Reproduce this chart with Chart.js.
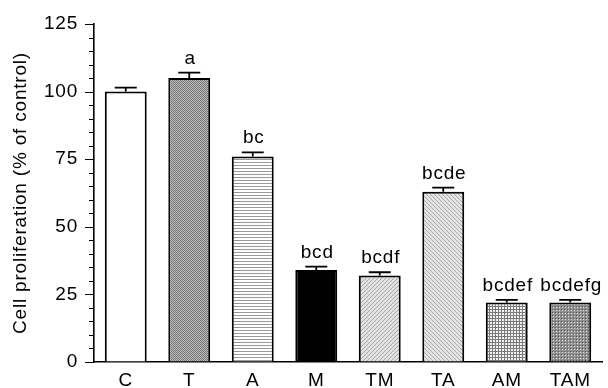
<!DOCTYPE html>
<html>
<head>
<meta charset="utf-8">
<script src="https://cdn.jsdelivr.net/npm/chart.js@4"></script>
<style>
  html, body { margin: 0; padding: 0; background: #fff; }
  #chart { display: block; }
</style>
</head>
<body>
<canvas id="chart" width="608" height="388"></canvas>
<script>
// data
const groups = ['C', 'T', 'A', 'M', 'TM', 'TA', 'AM', 'TAM'];
const proliferation = [100, 105, 76, 34, 32, 63, 22, 22];
const sem = [1.5, 2, 1.5, 1.3, 1.2, 1.5, 1, 1];
const letters = ['', 'a', 'bc', 'bcd', 'bcdf', 'bcde', 'bcdef', 'bcdefg'];
const yTicks = [0, 25, 50, 75, 100, 125];

const FONT = 'Liberation Sans, Arial, Helvetica, sans-serif';
const SPACING = '0.8px';

// small tile -> canvas pattern
function tile(w, h, draw) {
  const c = document.createElement('canvas');
  c.width = w; c.height = h;
  const g = c.getContext('2d');
  draw(g);
  return document.getElementById('chart').getContext('2d').createPattern(c, 'repeat');
}

const fills = [
  '#ffffff',
  tile(2, 2, g => { // T: dense grey checker
    g.fillStyle = '#bcbcbc'; g.fillRect(0, 0, 2, 2);
    g.fillStyle = '#767676'; g.fillRect(0, 0, 1, 1); g.fillRect(1, 1, 1, 1);
  }),
  tile(1, 3, g => { // A: horizontal lines
    g.fillStyle = '#fff'; g.fillRect(0, 0, 1, 3);
    g.fillStyle = '#9a9a9a'; g.fillRect(0, 0, 1, 1);
  }),
  '#000000',
  tile(4, 4, g => { // TM: diagonal /
    g.fillStyle = '#e2e2e2'; g.fillRect(0, 0, 4, 4);
    g.fillStyle = '#a8a8a8';
    for (let i = 0; i < 4; i++) g.fillRect(3 - i, i, 1, 1);
  }),
  tile(4, 4, g => { // TA: diagonal \
    g.fillStyle = '#e4e4e4'; g.fillRect(0, 0, 4, 4);
    g.fillStyle = '#aaaaaa';
    for (let i = 0; i < 4; i++) g.fillRect(i, i, 1, 1);
  }),
  tile(3, 3, g => { // AM: grid
    g.fillStyle = '#f4f4f4'; g.fillRect(0, 0, 3, 3);
    g.fillStyle = '#7a7a7a'; g.fillRect(0, 0, 3, 1); g.fillRect(0, 0, 1, 3);
  }),
  tile(3, 3, g => { // TAM: dotted dark
    g.fillStyle = '#909090'; g.fillRect(0, 0, 3, 3);
    g.fillStyle = '#e0e0e0'; g.fillRect(1, 1, 1, 1);
    g.fillStyle = '#555'; g.fillRect(0, 0, 1, 1);
  })
];

// the original lettering is set a bit wide
const spacing = {
  id: 'spacing',
  beforeUpdate(chart) { chart.ctx.letterSpacing = SPACING; },
  beforeDraw(chart) { chart.ctx.letterSpacing = SPACING; }
};

// error bars + significance letters
const annotate = {
  id: 'annotate',
  afterDatasetsDraw(chart) {
    const ctx = chart.ctx;
    const y = chart.scales.y;
    const meta = chart.getDatasetMeta(0);
    ctx.save();
    ctx.strokeStyle = '#000';
    ctx.lineWidth = 1.8;
    ctx.fillStyle = '#000';
    ctx.font = '19px ' + FONT;
    ctx.letterSpacing = SPACING;
    ctx.textAlign = 'center';
    ctx.textBaseline = 'alphabetic';
    meta.data.forEach((bar, i) => {
      const top = y.getPixelForValue(proliferation[i] + sem[i]);
      ctx.beginPath();
      ctx.moveTo(bar.x, bar.y);
      ctx.lineTo(bar.x, top);
      ctx.moveTo(bar.x - 11, top);
      ctx.lineTo(bar.x + 11, top);
      ctx.stroke();
      if (letters[i]) ctx.fillText(letters[i], bar.x + 1, top - 9);
    });
    ctx.restore();
  }
};

// outward y ticks: long at labels, short every 5
const yTickMarks = {
  id: 'yTickMarks',
  afterDraw(chart) {
    const ctx = chart.ctx;
    const y = chart.scales.y;
    const x0 = chart.chartArea.left;
    ctx.save();
    ctx.strokeStyle = '#000';
    ctx.lineWidth = 1.2;
    ctx.beginPath();
    for (let v = 0; v <= 125; v += 5) {
      const py = Math.round(y.getPixelForValue(v)) + 0.5;
      const len = yTicks.includes(v) ? 9 : 5;
      ctx.moveTo(x0 - len, py);
      ctx.lineTo(x0, py);
    }
    ctx.stroke();
    ctx.restore();
  }
};

new Chart(document.getElementById('chart'), {
  type: 'bar',
  data: {
    labels: groups,
    datasets: [{
      data: proliferation,
      backgroundColor: fills,
      borderColor: '#000',
      borderWidth: 2,
      borderSkipped: 'bottom',
      barPercentage: 0.66,
      categoryPercentage: 1
    }]
  },
  options: {
    responsive: false,
    animation: false,
    layout: { padding: { top: 24, right: 6, left: 0, bottom: 0 } },
    plugins: { legend: { display: false }, tooltip: { enabled: false } },
    scales: {
      x: {
        grid: { display: false, drawTicks: false },
        border: { display: true, color: '#000', width: 1.6 },
        ticks: { color: '#000', font: { family: FONT, size: 19 }, padding: 7, maxRotation: 0 },
        afterFit(s) { s.height = 26; }
      },
      y: {
        min: 0,
        max: 125,
        // invisible grid, only used to push the labels away from the axis
        grid: { display: true, drawOnChartArea: false, drawTicks: true, tickLength: 15, color: 'rgba(0,0,0,0)' },
        border: { display: true, color: '#000', width: 1.6 },
        afterBuildTicks(s) { s.ticks = yTicks.map(v => ({ value: v })); },
        ticks: { color: '#000', font: { family: FONT, size: 19 }, padding: 1 },
        title: {
          display: true,
          text: 'Cell proliferation (% of control)',
          color: '#000',
          font: { family: FONT, size: 19 },
          padding: { top: 9, bottom: 2 }
        },
        afterFit(s) { s.width = 94; }
      }
    }
  },
  plugins: [spacing, annotate, yTickMarks]
});
</script>
</body>
</html>
